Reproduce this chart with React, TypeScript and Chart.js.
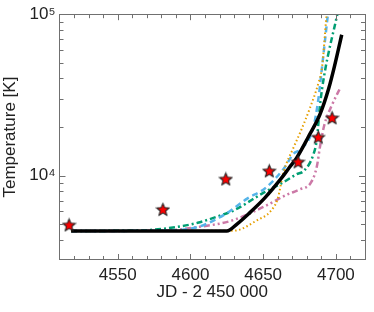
import React, { useEffect, useRef } from "react";
import { Chart, registerables } from "chart.js";
Chart.register(...registerables);

const X_MIN = 4510;
const X_MAX = 4720;
const Y_MIN = 3000;
const Y_MAX = 100000;
const xTicks = [4550, 4600, 4650, 4700];
const yTicks = [10000, 100000];
const yTickLabels = ["10⁴", "10⁵"];
const xTitle = "JD - 2 450 000";
const yTitle = "Temperature [K]";

// observed temperatures (stars)
const obsJD = [4516.6, 4581.1, 4624.3, 4654.2, 4674.0, 4687.9, 4697.4];
const obsT = [4955, 6180, 9540, 10710, 12180, 17340, 22840];

// black solid model
const blackJD = [4518, 4625, 4632, 4640, 4651, 4662, 4668, 4673, 4681, 4689, 4695, 4699, 4704];
const blackT = [4540, 4540, 5010, 5800, 7250, 9500, 11220, 12880, 17340, 23900, 34500, 47500, 74600];

// orange dotted model
const orangeJD = [4518, 4630, 4646, 4655, 4660, 4664, 4671, 4676, 4682, 4688, 4690.5, 4693.5];
const orangeT = [4540, 4560, 5300, 6000, 7200, 10500, 15000, 19000, 26000, 37500, 47000, 98000];

// blue dashed model
const blueJD = [4518, 4580, 4605, 4620, 4628, 4639, 4651, 4664, 4671, 4676, 4684.5, 4688, 4690, 4694.5];
const blueT = [4540, 4560, 4800, 5500, 6100, 7200, 8300, 11000, 13700, 14600, 19900, 30000, 43000, 100000];

// green dash-dot model
const greenJD = [4518, 4565, 4590, 4605, 4619, 4630, 4651, 4664, 4673, 4678, 4684.5, 4687, 4689, 4692, 4701];
const greenT = [4540, 4570, 4800, 5100, 5600, 6100, 7900, 9100, 10200, 10700, 13500, 17000, 27000, 42000, 100000];

// pink dash-dot-dot model
const pinkJD = [4518, 4580, 4605, 4628, 4651, 4666, 4675, 4683, 4687, 4689, 4692, 4697, 4703];
const pinkT = [4540, 4560, 4800, 5250, 6450, 7600, 8200, 9100, 11500, 15000, 20500, 27000, 35000];

const pts = (xs: number[], ys: number[]) => xs.map((x, i) => ({ x, y: ys[i] }));

const FONT = "'Liberation Sans', Arial, sans-serif";

function makeStar(size: number) {
  const c = document.createElement("canvas");
  c.width = size;
  c.height = size;
  const ctx = c.getContext("2d")!;
  const cx = size / 2;
  const cy = size / 2 + 0.6;
  const R = size / 2 - 1;
  const r = R * 0.45;
  ctx.beginPath();
  for (let i = 0; i < 10; i++) {
    const a = -Math.PI / 2 + (i * Math.PI) / 5;
    const rad = i % 2 ? r : R;
    ctx.lineTo(cx + rad * Math.cos(a), cy + rad * Math.sin(a));
  }
  ctx.closePath();
  ctx.fillStyle = "#ff0000";
  ctx.fill();
  ctx.lineWidth = 1.1;
  ctx.strokeStyle = "#222";
  ctx.stroke();
  return c;
}

const frameTicks = {
  id: "frameTicks",
  afterDraw(chart: any) {
    const { ctx, chartArea: a, scales } = chart;
    const xs = scales.x;
    const ys = scales.y;
    ctx.save();
    ctx.strokeStyle = "#707070";
    ctx.lineWidth = 1;
    ctx.strokeRect(Math.round(a.left) - 0.5, Math.round(a.top) + 0.5, Math.round(a.right - a.left), Math.round(a.bottom - a.top) - 1);
    ctx.beginPath();
    for (let v = 4520; v <= 4710; v += 10) {
      const px = Math.round(xs.getPixelForValue(v)) + 0.5;
      const len = v % 50 === 0 ? 6 : 4;
      ctx.moveTo(px, a.bottom);
      ctx.lineTo(px, a.bottom - len);
      ctx.moveTo(px, a.top);
      ctx.lineTo(px, a.top + len);
    }
    const ym: number[] = [];
    for (let d = 1000; d <= 100000; d *= 10) {
      for (let m = 1; m <= 9; m++) {
        const v = d * m;
        if (v > Y_MIN && v <= Y_MAX) ym.push(v);
      }
    }
    ym.forEach((v) => {
      const py = Math.round(ys.getPixelForValue(v)) + 0.5;
      const major = v === 10000 || v === 100000;
      const len = major ? 6 : 4;
      ctx.moveTo(a.left, py);
      ctx.lineTo(a.left + len, py);
      ctx.moveTo(a.right, py);
      ctx.lineTo(a.right - len, py);
    });
    ctx.stroke();
    ctx.restore();
  },
};

export default function App() {
  const ref = useRef<HTMLCanvasElement | null>(null);
  useEffect(() => {
    document.body.style.margin = "0";
    const star = makeStar(15);
    const lineBase = {
      type: "line" as const,
      pointRadius: 0,
      fill: false,
      cubicInterpolationMode: "monotone" as const,
    };
    const chart = new Chart(ref.current!, {
      type: "line",
      data: {
        datasets: [
          {
            type: "scatter",
            data: pts(obsJD, obsT),
            pointStyle: star as any,
            pointRadius: 8,
            showLine: false,
            order: 0,
          } as any,
          { ...lineBase, data: pts(blackJD, blackT), borderColor: "#000000", borderWidth: 3.5, order: 1 },
          { ...lineBase, data: pts(orangeJD, orangeT), borderColor: "#E69F00", borderWidth: 2, borderDash: [1.5, 2.5], order: 2 },
          { ...lineBase, data: pts(blueJD, blueT), borderColor: "#56B4E9", borderWidth: 2.5, borderDash: [6, 4], order: 3 },
          { ...lineBase, data: pts(greenJD, greenT), borderColor: "#009E73", borderWidth: 2.5, borderDash: [6, 3, 2, 3], order: 4 },
          { ...lineBase, data: pts(pinkJD, pinkT), borderColor: "#CC79A7", borderWidth: 2.5, borderDash: [6, 3, 2, 3, 2, 3], order: 5 },
        ],
      },
      options: {
        responsive: false,
        animation: false,
        layout: { padding: { left: 0, right: 4.5, top: 6, bottom: 0 } },
        plugins: { legend: { display: false }, tooltip: { enabled: false } },
        scales: {
          x: {
            type: "linear",
            min: X_MIN,
            max: X_MAX,
            grid: { display: false, drawTicks: false },
            border: { display: false },
            afterBuildTicks: (s: any) => {
              s.ticks = xTicks.map((v) => ({ value: v }));
            },
            afterFit: (s: any) => {
              s.height = 52;
            },
            ticks: {
              padding: 5,
              color: "#222",
              font: { family: FONT, size: 17 },
              maxRotation: 0,
              callback: (v: any) => String(v),
            },
            title: {
              display: true,
              text: xTitle,
              color: "#222",
              font: { family: FONT, size: 17 },
              padding: { top: 0, bottom: 9 },
            },
          },
          y: {
            type: "logarithmic",
            min: Y_MIN,
            max: Y_MAX,
            grid: { display: false, drawTicks: false },
            border: { display: false },
            afterBuildTicks: (s: any) => {
              s.ticks = yTicks.map((v) => ({ value: v }));
            },
            afterFit: (s: any) => {
              s.width = 59.5;
            },
            ticks: {
              padding: 4,
              color: "#222",
              font: { family: FONT, size: 17 },
              callback: (v: any) => {
                const i = yTicks.indexOf(Number(v));
                return i >= 0 ? yTickLabels[i] : "";
              },
            },
            title: {
              display: true,
              text: yTitle,
              color: "#222",
              font: { family: FONT, size: 17 },
              padding: { top: 0, bottom: 0 },
            },
          },
        },
      },
      plugins: [frameTicks],
    } as any);
    return () => chart.destroy();
  }, []);
  return (
    <div style={{ position: "fixed", left: 0, top: 0, width: 374, height: 312 }}>
      <canvas ref={ref} width={374} height={312} />
    </div>
  );
}
